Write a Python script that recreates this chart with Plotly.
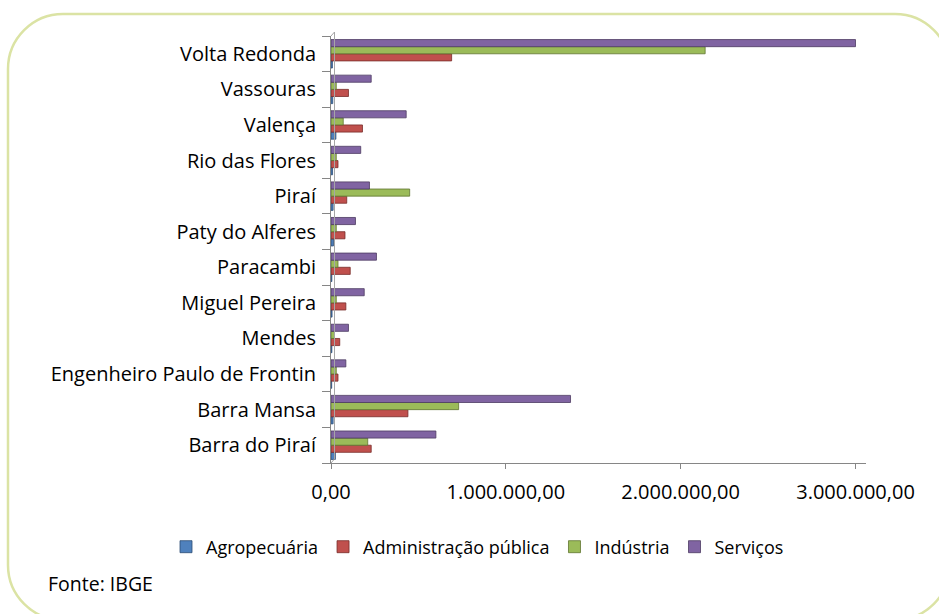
import plotly.graph_objects as go

# Municípios (bottom to top on the category axis)
municipios = [
    "Barra do Piraí", "Barra Mansa", "Engenheiro Paulo de Frontin", "Mendes",
    "Miguel Pereira", "Paracambi", "Paty do Alferes", "Piraí",
    "Rio das Flores", "Valença", "Vassouras", "Volta Redonda",
]

# Valor adicionado por setor
agropecuaria = [25000, 12000, 4000, 5000, 6000, 5000, 14000, 12000, 9000, 28000, 10000, 8000]
adm_publica = [230000, 440000, 40000, 50000, 85000, 110000, 80000, 90000, 40000, 180000, 100000, 690000]
industria = [210000, 730000, 30000, 20000, 30000, 40000, 30000, 450000, 30000, 70000, 30000, 2140000]
servicos = [600000, 1370000, 85000, 100000, 190000, 260000, 140000, 220000, 170000, 430000, 230000, 3000000]

series_names = ["Agropecuária", "Administração pública", "Indústria", "Serviços"]
series_values = [agropecuaria, adm_publica, industria, servicos]
series_colors = ["#4f81bd", "#c0504d", "#9bbb59", "#8064a2"]
series_edges = ["#2c4d75", "#772c2a", "#5f7530", "#4d3b62"]

x_tick_vals = [0, 1000000, 2000000, 3000000]
x_tick_text = ["0,00", "1.000.000,00", "2.000.000,00", "3.000.000,00"]

W, H = 939, 614
ML, MR, MT, MB = 331, 73, 36, 151
PW = W - ML - MR
PH = H - MT - MB


def px(x):
    return (x - ML) / PW


def py(y):
    return (H - MB - y) / PH


FONT = "Open Sans, Lato, sans-serif"

fig = go.Figure()
for name, vals, col, edge in zip(series_names, series_values, series_colors, series_edges):
    fig.add_trace(go.Bar(
        y=municipios, x=vals, name=name, orientation="h",
        marker=dict(color=col, line=dict(color=edge, width=0.8)),
    ))

# Rounded outer frame
x0, y0, x1, y1, r = 8, 14, 950, 620, 55
k = 0.5523 * r
frame = (
    f"M {px(x0 + r)} {py(y0)} L {px(x1 - r)} {py(y0)} "
    f"C {px(x1 - r + k)} {py(y0)} {px(x1)} {py(y0 + r - k)} {px(x1)} {py(y0 + r)} "
    f"L {px(x1)} {py(y1 - r)} "
    f"C {px(x1)} {py(y1 - r + k)} {px(x1 - r + k)} {py(y1)} {px(x1 - r)} {py(y1)} "
    f"L {px(x0 + r)} {py(y1)} "
    f"C {px(x0 + r - k)} {py(y1)} {px(x0)} {py(y1 - r + k)} {px(x0)} {py(y1 - r)} "
    f"L {px(x0)} {py(y0 + r)} "
    f"C {px(x0)} {py(y0 + r - k)} {px(x0 + r - k)} {py(y0)} {px(x0 + r)} {py(y0)} Z"
)

shapes = [
    dict(type="path", xref="paper", yref="paper", path=frame,
         line=dict(color="#dbe3a4", width=2.5), fillcolor="rgba(0,0,0,0)", layer="below"),
    # back wall edge of the 3D category axis
    dict(type="line", xref="paper", yref="paper", x0=px(334.5), x1=px(334.5), y0=py(32), y1=py(459),
         line=dict(color="#a6a6a6", width=1)),
    dict(type="line", xref="paper", yref="paper", x0=px(331), x1=px(334.5), y0=py(36), y1=py(32),
         line=dict(color="#a6a6a6", width=1)),
    dict(type="line", xref="paper", yref="paper", x0=px(331), x1=px(334.5), y0=py(463), y1=py(459),
         line=dict(color="#a6a6a6", width=1)),
]

fig.update_layout(
    width=W, height=H,
    margin=dict(l=ML, r=MR, t=MT, b=MB, pad=0),
    paper_bgcolor="white", plot_bgcolor="white",
    barmode="group", bargap=0.2, bargroupgap=0,
    font=dict(family=FONT, color="#000000"),
    showlegend=True,
    legend=dict(
        orientation="h", x=px(166), xanchor="left", y=py(547), yanchor="middle",
        font=dict(family=FONT, size=18, color="#000000"),
        itemwidth=30, tracegroupgap=0, bgcolor="rgba(0,0,0,0)",
    ),
    xaxis=dict(
        range=[0, 3060000], tickmode="array", tickvals=x_tick_vals, ticktext=x_tick_text,
        showgrid=False, zeroline=False, showline=True, linecolor="#868686", linewidth=1,
        ticks="outside", ticklen=5, tickcolor="#868686", ticklabelstandoff=6,
        tickfont=dict(family=FONT, size=20, color="#000000"), fixedrange=True,
    ),
    yaxis=dict(
        type="category", categoryorder="array", categoryarray=municipios,
        showgrid=False, zeroline=False, showline=True, linecolor="#868686", linewidth=1,
        ticks="outside", ticklen=8, tickcolor="#868686", tickson="boundaries",
        ticklabelstandoff=10,
        tickfont=dict(family=FONT, size=20, color="#000000"), fixedrange=True,
    ),
    shapes=shapes,
    annotations=[
        dict(text="Fonte: IBGE", xref="paper", yref="paper", x=px(46), y=py(583),
             xanchor="left", yanchor="middle", showarrow=False,
             font=dict(family=FONT, size=19.5, color="#000000")),
    ],
)

fig.write_html("out.html")
